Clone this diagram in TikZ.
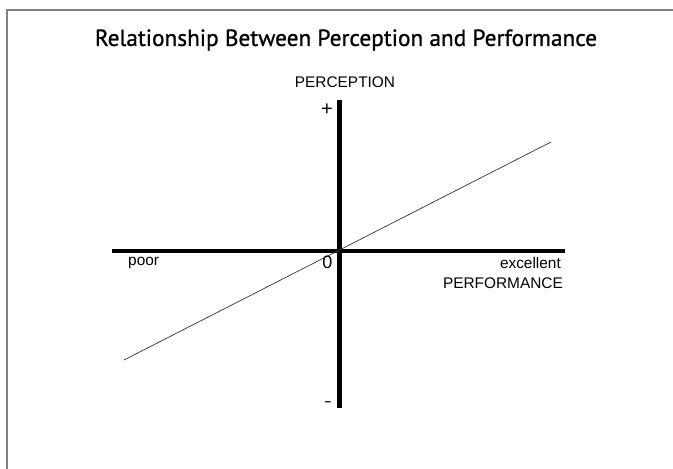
\documentclass[tikz,border=0pt]{standalone}
\usepackage{fontspec}
\setmainfont{Liberation Sans}
\newfontfamily\titlefont[FakeBold=0.9]{PT Sans}
\begin{document}
\begin{tikzpicture}[x=1pt,y=-1pt,
  axis/.style={line width=4.3pt},
  trend/.style={line width=0.7pt, black!80},
  frame/.style={line width=1.5pt, black!50},
  lbl/.style={inner sep=0pt, font=\fontsize{15.4}{17}\selectfont},
  sign/.style={inner sep=0pt, font=\fontsize{20}{22}\selectfont}]
\useasboundingbox (0,0) rectangle (673,469);
% frame
\coordinate (fl) at (7,469);
\coordinate (ft) at (7,10);
\coordinate (fr) at (673,10);
\draw[frame] (fl) -- (ft) -- (fr);
% title
\node[inner sep=0pt] (title) at (346,40) {\titlefont\fontsize{23.3}{27}\selectfont Relationship Between Perception and Performance};
% axes
\coordinate (vt) at (339.5,100);
\coordinate (vb) at (339.5,408);
\coordinate (hl) at (112,251);
\coordinate (hr) at (565,251);
\draw[axis] (vt) -- (vb);
\draw[axis] (hl) -- (hr);
% trend
\coordinate (t1) at (124,360);
\coordinate (t2) at (551,142);
\draw[trend] (t1) -- (t2);
% labels
\node[lbl] (perc) at (345,82) {PERCEPTION};
\node[sign] (plus) at (327,110) {+};
\node[sign, font=\fontsize{12}{14}\selectfont\bfseries] (minus) at (328,404) {–};
\node[lbl, anchor=west] (poor) at (128,263) {poor};
\node[lbl, font=\fontsize{18}{20}\selectfont] (zero) at (327.5,262) {0};
\node[lbl, anchor=east] (exc) at (561,263) {excellent};
\node[lbl, anchor=east] (perf) at (563,283) {PERFORMANCE};
\end{tikzpicture}
\end{document}
